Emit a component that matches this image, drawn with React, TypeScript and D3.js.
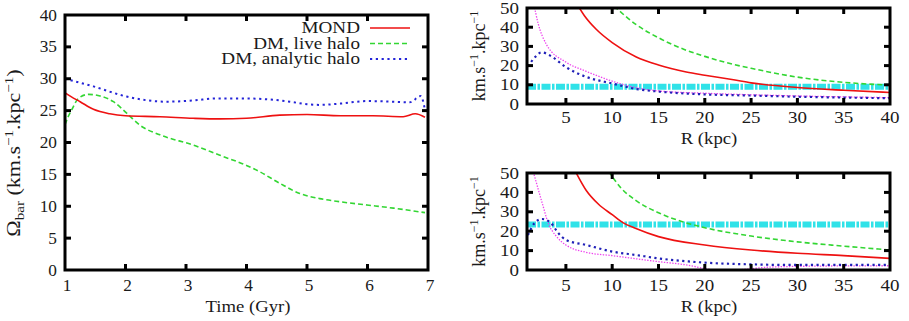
import React from 'react';
import * as d3 from 'd3';

// ---------- Left panel data: bar pattern speed vs time ----------
const timeMond = [1.0, 1.1, 1.25, 1.47, 1.74, 2.0, 2.57, 3.12, 3.56, 4.0, 4.55, 5.0, 5.55, 6.09, 6.59, 6.79, 6.95];
const omegaMond = [27.8, 27.2, 26.4, 25.2, 24.5, 24.2, 24.05, 23.8, 23.7, 23.8, 24.3, 24.4, 24.2, 24.2, 24.05, 24.5, 23.95];

const timeLive = [1.0, 1.05, 1.11, 1.22, 1.39, 1.58, 1.8, 2.02, 2.24, 2.57, 3.12, 3.56, 4.0, 4.22, 4.55, 4.88, 5.21, 5.55, 5.99, 6.43, 6.95];
const omegaLive = [22.8, 24.0, 25.1, 26.9, 27.55, 27.3, 26.4, 24.6, 22.7, 21.2, 19.6, 18.0, 16.4, 15.4, 13.6, 12.0, 11.2, 10.7, 10.2, 9.7, 9.0];

const timeAnalytic = [1.0, 1.47, 2.02, 2.68, 3.12, 3.5, 4.0, 4.44, 4.72, 5.0, 5.21, 5.55, 5.99, 6.42, 6.7, 6.88, 6.95];
const omegaAnalytic = [30.0, 28.8, 27.2, 26.4, 26.6, 26.9, 26.9, 26.7, 26.4, 26.0, 25.9, 26.1, 26.5, 26.4, 26.3, 27.3, 25.1];

const legendLabels = ['MOND', 'DM, live halo', 'DM, analytic halo'];

// ---------- Right-top panel (DM live halo) ----------
const rTopRed = [6.2, 7, 8.3, 10, 12.6, 15, 18, 20, 23.1, 25, 30, 35, 40];
const vTopRed = [52, 46, 38.8, 32, 24.5, 20.3, 16.7, 15.0, 12.6, 11.0, 8.6, 7.2, 6.0];
const rTopGreen = [10.2, 12.6, 15, 18, 20, 23.1, 25, 30, 35, 40];
const vTopGreen = [51, 41.3, 34.5, 28, 24.8, 20.6, 18.6, 14.0, 11.3, 9.8];
const rTopMagenta = [1.5, 2.0, 2.9, 5, 7.2, 10, 12.6, 15, 20, 25, 30, 40];
const vTopMagenta = [53, 42, 31, 21.8, 17, 11.9, 8.5, 6.8, 5.6, 4.8, 4.2, 3.3];
const rTopBlue = [0.9, 1.65, 2.4, 3.3, 5, 7.2, 10, 12.6, 15, 20, 25, 30, 40];
const vTopBlue = [19.5, 24.3, 26.9, 25.2, 19.2, 14.1, 10.7, 7.8, 6.5, 5.0, 4.4, 3.8, 3.0];
const topPatternSpeed = 9.0;

// ---------- Right-bottom panel (MOND) ----------
const rBotRed = [5.9, 7.2, 8.5, 10, 11.2, 12.5, 15, 20, 25, 30, 35, 40];
const vBotRed = [52, 41, 34, 28.5, 24.3, 21.5, 17.2, 12.9, 10.3, 8.6, 7.4, 6.0];
const rBotGreen = [9.6, 11, 12.5, 15, 17.5, 20, 25, 30, 35, 40];
const vBotGreen = [51, 42, 36, 29.5, 25, 21.8, 17.5, 14.5, 12.3, 10.3];
const rBotMagenta = [1.4, 2.4, 3.1, 4, 5, 7.2, 10, 15, 18, 20, 22, 24, 27, 32, 40];
const vBotMagenta = [52, 35.2, 24.1, 17.2, 12.9, 9.1, 7.4, 4.3, 2.6, 0.8, -0.5, 0.2, 1.5, 2.0, 2.2];
const rBotBlue = [0.9, 1.6, 2.4, 3.3, 4.2, 5, 7.2, 10, 12.6, 15, 20, 25, 30, 40];
const vBotBlue = [18, 24.1, 26.3, 24.6, 18.9, 15.5, 12.9, 9.5, 7.7, 6.0, 3.8, 2.9, 2.6, 2.6];
const botPatternSpeed = 23.5;

const leftXTicks = [1, 2, 3, 4, 5, 6, 7];
const leftYTicks = [0, 5, 10, 15, 20, 25, 30, 35, 40];
const rightXTicks = [5, 10, 15, 20, 25, 30, 35, 40];
const rightYTicks = [0, 10, 20, 30, 40, 50];

const FONT = 'Liberation Serif';
const TXT = '#1a1a1a';
const RED = '#ee1111';
const GREEN = '#33d633';
const BLUE = '#2424d8';
const NAVY = '#2020b8';
const MAGENTA = '#ee44ee';
const CYAN = '#30e2e8';

type Scale = d3.ScaleLinear<number, number>;

function makePath(xs: number[], ys: number[], sx: Scale, sy: Scale) {
  const pts = xs.map((x, i) => [x, ys[i]] as [number, number]);
  return d3.line<[number, number]>()
    .x(d => sx(d[0]))
    .y(d => sy(d[1]))
    .curve(d3.curveMonotoneX)(pts) || '';
}

function T(props: { x: number; y: number; size: number; sx?: number; anchor?: string; children: React.ReactNode }) {
  const { x, y, size, sx = 1, anchor = 'start', children } = props;
  return (
    <text transform={`translate(${x},${y}) scale(${sx},1)`} textAnchor={anchor} fontSize={size} fontFamily={FONT} fill={TXT}>
      {children}
    </text>
  );
}

function FrameAxes(props: { sx: Scale; sy: Scale; xTicks: number[]; yTicks: number[]; labelOff: number; size: number; stretch: number; xShift: number }) {
  const { sx, sy, xTicks, yTicks, labelOff, size, stretch, xShift } = props;
  const [x0, x1] = sx.range();
  const [y1, y0] = sy.range();
  const tl = 6;
  const els: React.ReactNode[] = [];
  xTicks.forEach((t, i) => {
    const x = sx(t);
    if (Math.abs(x - x0) > 2 && Math.abs(x - x1) > 2) {
      els.push(<line key={'xb' + i} x1={x} x2={x} y1={y1} y2={y1 - tl} stroke="#000" strokeWidth={3} />);
      els.push(<line key={'xt' + i} x1={x} x2={x} y1={y0} y2={y0 + tl} stroke="#000" strokeWidth={3} />);
    }
    els.push(<T key={'xl' + i} x={x + xShift} y={y1 + labelOff} size={size} sx={stretch} anchor="middle">{t}</T>);
  });
  yTicks.forEach((t, i) => {
    const y = sy(t);
    if (Math.abs(y - y0) > 2 && Math.abs(y - y1) > 2) {
      els.push(<line key={'yl' + i} x1={x0} x2={x0 + tl} y1={y} y2={y} stroke="#000" strokeWidth={3} />);
      els.push(<line key={'yr' + i} x1={x1} x2={x1 - tl} y1={y} y2={y} stroke="#000" strokeWidth={3} />);
    }
    els.push(<T key={'yt' + i} x={x0 - 8} y={y + 5.5} size={size} sx={stretch} anchor="end">{t}</T>);
  });
  els.push(<rect key="frame" x={x0} y={y0} width={x1 - x0} height={y1 - y0} fill="none" stroke="#000" strokeWidth={3} />);
  return <g>{els}</g>;
}

export default function App() {
  // Left panel
  const lx = d3.scaleLinear().domain([1, 7]).range([65, 428]);
  const ly = d3.scaleLinear().domain([0, 40]).range([270, 15]);
  // Right panels
  const rx = d3.scaleLinear().domain([0.8, 40]).range([527, 890]);
  const ryTop = d3.scaleLinear().domain([0, 50]).range([104, 8]);
  const ryBot = d3.scaleLinear().domain([0, 50]).range([270, 173]);

  const legendX = 360;
  const legendYs = [28, 43.5, 59];
  const legendStyles = [
    { stroke: RED, dash: undefined as string | undefined, w: 1.6 },
    { stroke: GREEN, dash: '5,3', w: 1.6 },
    { stroke: BLUE, dash: '2.2,3.6', w: 2 },
  ];

  const rightPanel = (sy: Scale, id: string, red: [number[], number[]], green: [number[], number[]], mag: [number[], number[]], blue: [number[], number[]], ps: number, labelOff: number, xlabOff: number) => {
    const [x0, x1] = rx.range();
    const [b, t] = sy.range();
    return (
      <g>
        <clipPath id={id}>
          <rect x={x0} y={t} width={x1 - x0} height={b - t} />
        </clipPath>
        <g clipPath={`url(#${id})`}>
          <path d={makePath([0.8, 40], [ps, ps], rx, sy)} fill="none" stroke={CYAN} strokeWidth={6} strokeDasharray="9,1.5,2.5,1.5" />
          <path d={makePath(mag[0], mag[1], rx, sy)} fill="none" stroke={MAGENTA} strokeWidth={1.3} strokeDasharray="1.4,1.4" />
          <path d={makePath(blue[0], blue[1], rx, sy)} fill="none" stroke={NAVY} strokeWidth={2.2} strokeDasharray="2.2,3.4" />
          <path d={makePath(green[0], green[1], rx, sy)} fill="none" stroke={GREEN} strokeWidth={1.6} strokeDasharray="5,3" />
          <path d={makePath(red[0], red[1], rx, sy)} fill="none" stroke={RED} strokeWidth={1.6} />
        </g>
        <FrameAxes sx={rx} sy={sy} xTicks={rightXTicks} yTicks={rightYTicks} labelOff={labelOff} size={16.5} stretch={1.15} xShift={0} />
        <T x={709} y={b + xlabOff} size={17} sx={1.1} anchor="middle">R (kpc)</T>
        <text transform={`translate(485, ${(b + t) / 2}) rotate(-90)`} textAnchor="middle" fontSize={18} fontFamily={FONT} fill={TXT}>
          km.s<tspan fontSize={12} dy={-7}>−1</tspan><tspan dy={7}>.kpc</tspan><tspan fontSize={12} dy={-7}>−1</tspan>
        </text>
      </g>
    );
  };

  return (
    <svg width={909} height={321} style={{ position: 'absolute', left: 0, top: 0, background: '#fff' }}>
      <rect x={0} y={0} width={909} height={321} fill="#fff" />
      {/* Left panel */}
      <clipPath id="clipL">
        <rect x={65} y={15} width={363} height={255} />
      </clipPath>
      <g clipPath="url(#clipL)">
        <path d={makePath(timeAnalytic, omegaAnalytic, lx, ly)} fill="none" stroke={BLUE} strokeWidth={2} strokeDasharray="2.2,3.6" />
        <path d={makePath(timeLive, omegaLive, lx, ly)} fill="none" stroke={GREEN} strokeWidth={1.6} strokeDasharray="5,3" />
        <path d={makePath(timeMond, omegaMond, lx, ly)} fill="none" stroke={RED} strokeWidth={1.6} />
      </g>
      {legendLabels.map((lab, i) => (
        <g key={lab}>
          <T x={legendX} y={legendYs[i] + 5} size={16.5} sx={1.16} anchor="end">{lab}</T>
          <line x1={legendX + 10} x2={legendX + 50} y1={legendYs[i]} y2={legendYs[i]} stroke={legendStyles[i].stroke} strokeWidth={legendStyles[i].w} strokeDasharray={legendStyles[i].dash} />
        </g>
      ))}
      <FrameAxes sx={lx} sy={ly} xTicks={leftXTicks} yTicks={leftYTicks} labelOff={21} size={16} stretch={1.08} xShift={2} />
      <T x={248} y={312} size={17} sx={1.1} anchor="middle">Time (Gyr)</T>
      <text transform="translate(20, 153) rotate(-90) scale(1.16,1)" textAnchor="middle" fontSize={19} fontFamily={FONT} fill={TXT}>
        Ω<tspan fontSize={13} dy={4}>bar</tspan><tspan dy={-4}> (km.s</tspan><tspan fontSize={13} dy={-7}>−1</tspan><tspan dy={7}>.kpc</tspan><tspan fontSize={13} dy={-7}>−1</tspan><tspan dy={7}>)</tspan>
      </text>
      {/* Right panels */}
      {rightPanel(ryTop, 'clipRT', [rTopRed, vTopRed], [rTopGreen, vTopGreen], [rTopMagenta, vTopMagenta], [rTopBlue, vTopBlue], topPatternSpeed, 19, 40)}
      {rightPanel(ryBot, 'clipRB', [rBotRed, vBotRed], [rBotGreen, vBotGreen], [rBotMagenta, vBotMagenta], [rBotBlue, vBotBlue], botPatternSpeed, 21, 42)}
    </svg>
  );
}
